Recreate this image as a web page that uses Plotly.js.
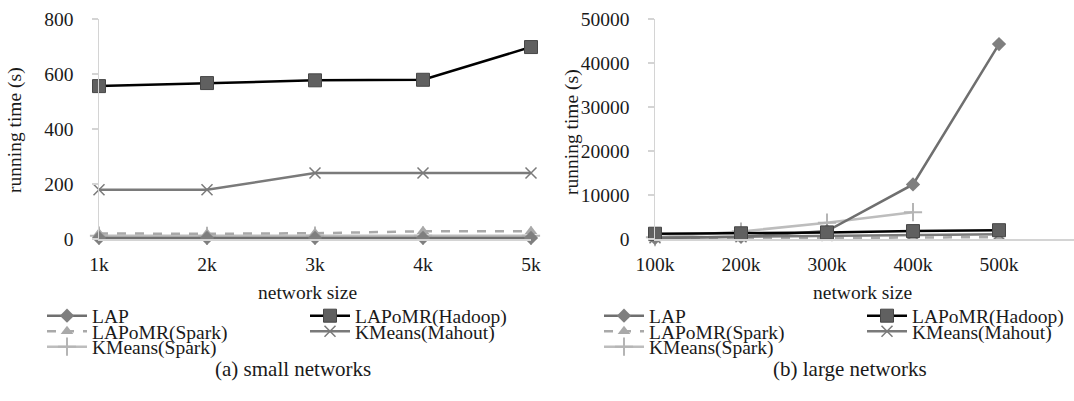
<!DOCTYPE html>
<html>
<head>
<meta charset="utf-8">
<script src="https://cdn.plot.ly/plotly-3.0.1.min.js"></script>
<style>
html,body{margin:0;padding:0;background:#fff;}
#chart{width:1074px;height:401px;}
</style>
</head>
<body>
<div id="chart"></div>
<script>
// ---------- data ----------
const smallSizes = ["1k", "2k", "3k", "4k", "5k"];
const largeSizes = ["100k", "200k", "300k", "400k", "500k"];
const seriesNames = ["LAP", "LAPoMR(Hadoop)", "LAPoMR(Spark)", "KMeans(Mahout)", "KMeans(Spark)"];

// (a) small networks, running time (s)
const smallLAP = [4, 4, 4, 4, 4];
const smallHadoop = [556, 567, 577, 579, 698];
const smallLAPSpark = [20, 19, 21, 28, 28];
const smallMahout = [179, 179, 240, 240, 240];
const smallKMSpark = [12, 11, 12, 12, 12];

// (b) large networks, running time (s)
const largeLAP = [200, 500, 1800, 12400, 44300];
const largeHadoop = [1200, 1300, 1500, 1800, 2000];
const largeLAPSpark = [60, 120, 220, 320, 420];
const largeMahout = [300, 500, 800, 1000, 1100];
const largeKMSpark = [400, 1700, 3700, 6100, null];

const smallTicks = [0, 200, 400, 600, 800];
const largeTicks = [0, 10000, 20000, 30000, 40000, 50000];

// ---------- styling ----------
const FONT = "Liberation Serif";
const TXT = "#1a1a1a";
const W = 1074, H = 401;
const px = v => v / W;
const py = v => 1 - v / H;

const styles = [
  {line: {color: "#6f6f6f", width: 2.5}, marker: {symbol: "diamond", size: 11, color: "#7f7f7f"}},
  {line: {color: "#000000", width: 2.5}, marker: {symbol: "square", size: 13, color: "#606060", line: {color: "#474747", width: 1}}},
  {line: {color: "#a9a9a9", width: 2.5, dash: "dash"}, marker: {symbol: "triangle-up", size: 11, color: "#a9a9a9"}},
  {line: {color: "#7a7a7a", width: 2.5}, marker: {symbol: "x-thin-open", size: 11, color: "#7a7a7a", line: {color: "#7a7a7a", width: 1.5}}},
  {line: {color: "#bdbdbd", width: 2.5}, marker: {symbol: "cross-thin-open", size: 13, color: "#b5b5b5", line: {color: "#b5b5b5", width: 2}}}
];

const smallData = [smallLAP, smallHadoop, smallLAPSpark, smallMahout, smallKMSpark];
const largeData = [largeLAP, largeHadoop, largeLAPSpark, largeMahout, largeKMSpark];
// draw order: light ones first, dark ones on top
const drawOrder = [4, 2, 3, 0, 1];

const traces = [];
drawOrder.forEach(i => {
  traces.push(Object.assign({
    type: "scatter", mode: "lines+markers", name: seriesNames[i],
    x: smallSizes.map((_, k) => k + 1), y: smallData[i],
    xaxis: "x", yaxis: "y", cliponaxis: false, hoverinfo: "y",
    legend: "legend" + (i === 0 ? "" : (i + 1))
  }, JSON.parse(JSON.stringify(styles[i]))));
});
drawOrder.forEach(i => {
  traces.push(Object.assign({
    type: "scatter", mode: "lines+markers", name: seriesNames[i],
    x: largeSizes.map((_, k) => k + 1), y: largeData[i],
    xaxis: "x2", yaxis: "y2", cliponaxis: false, hoverinfo: "y",
    legend: "legend" + (i + 6)
  }, JSON.parse(JSON.stringify(styles[i]))));
});

// plot geometry (pixels)
const yTop = 19, yBot = 239;
const aLeft = 99, aRight = 531;
const bLeft = 655, bStep = 86;

const axisY = {
  showgrid: false, zeroline: false, showline: true, linecolor: "#d4d4d4", linewidth: 1.5,
  ticks: "outside", ticklen: 6, tickcolor: "#d4d4d4", tickwidth: 1.5,
  ticklabelstandoff: 14, tickformat: "d",
  tickfont: {family: FONT, size: 19.5, color: TXT},
  domain: [py(yBot), py(yTop)]
};
const axisX = {
  showgrid: false, zeroline: false, showline: true, linecolor: "#d4d4d4", linewidth: 1.5,
  ticks: "", tickfont: {family: FONT, size: 19.5, color: TXT},
  ticklabelstandoff: 7
};

const ann = (text, x, y, size, angle) => ({
  text: text, x: px(x), y: py(y), xref: "paper", yref: "paper",
  xanchor: "center", yanchor: "middle", showarrow: false, textangle: angle || 0,
  font: {family: FONT, size: size, color: TXT}
});

const layout = {
  width: W, height: H,
  margin: {l: 0, r: 0, t: 0, b: 0},
  paper_bgcolor: "#ffffff", plot_bgcolor: "rgba(0,0,0,0)",
  font: {family: FONT, color: TXT},
  showlegend: true,
  xaxis: Object.assign({}, axisX, {
    domain: [px(aLeft), px(aRight)], range: [1, 5],
    tickvals: [1, 2, 3, 4, 5], ticktext: smallSizes, anchor: "y"
  }),
  yaxis: Object.assign({}, axisY, {
    range: [0, 800], tickvals: smallTicks, anchor: "x"
  }),
  xaxis2: Object.assign({}, axisX, {
    domain: [px(bLeft), 1], range: [1, 1 + (W - bLeft) / bStep],
    tickvals: [1, 2, 3, 4, 5], ticktext: largeSizes, anchor: "y2"
  }),
  yaxis2: Object.assign({}, axisY, {
    range: [0, 50000], tickvals: largeTicks, anchor: "x2"
  }),
  annotations: [
    ann("running time (s)", 15, 130, 19.5, -90),
    ann("running time (s)", 572, 132, 19.5, -90),
    ann("network size", 307, 292, 19.5),
    ann("network size", 862, 292, 19.5),
    ann("(a) small networks", 293, 369, 21),
    ann("(b) large networks", 850, 369, 21)
  ]
};

// legends: one per entry so the two-column, tight layout can be reproduced
const legPos = [[42, 316], [305, 316], [42, 331.5], [305, 331.5], [42, 347]];
for (let c = 0; c < 2; c++) {
  const off = c === 0 ? 0 : 557;
  for (let i = 0; i < 5; i++) {
    const idx = c * 5 + i + 1;
    const key = "legend" + (idx === 1 ? "" : idx);
    layout[key] = {
      x: px(legPos[i][0] + off), y: py(legPos[i][1]),
      xref: "paper", yref: "paper", xanchor: "left", yanchor: "middle",
      bgcolor: "rgba(0,0,0,0)", borderwidth: 0, itemwidth: 40,
      font: {family: FONT, size: 19.5, color: TXT},
      itemclick: false, itemdoubleclick: false
    };
  }
}

Plotly.newPlot("chart", traces, layout, {displayModeBar: false, staticPlot: true});
</script>
</body>
</html>
